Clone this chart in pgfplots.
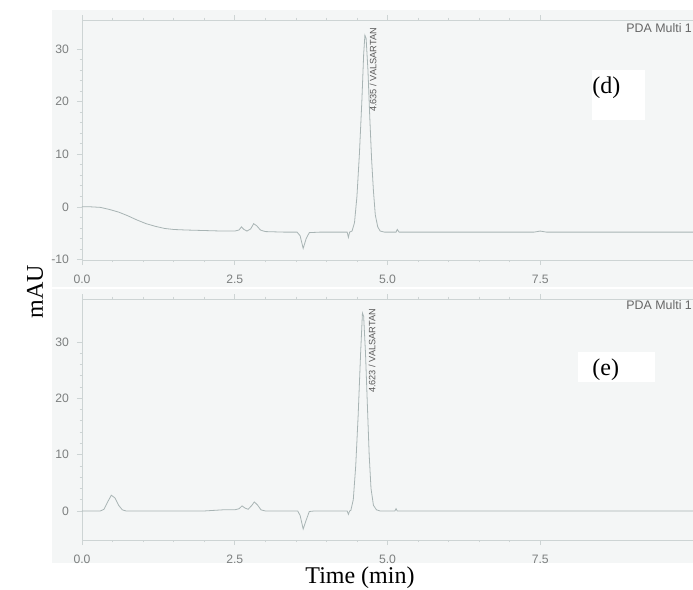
\documentclass[border=0pt]{standalone}
\usepackage{pgfplots}
\pgfplotsset{compat=1.18}
\usepackage{fontspec}
\setmainfont{Liberation Serif}
\newfontfamily\arial{Liberation Sans}
\definecolor{bgcol}{RGB}{244,246,246}
\definecolor{framecol}{RGB}{205,212,212}
\definecolor{linecol}{RGB}{168,180,180}
\definecolor{tickcol}{RGB}{125,128,128}
\pgfplotsset{
  chrom/.style={
    scale only axis, width=305.5pt,
    xmin=0, xmax=10,
    xtick={0,2.5,5,7.5},
    xticklabels={0.0,2.5,5.0,7.5},
    minor x tick num=4,
    minor y tick num=4,
    tick align=outside,
    major tick length=2.5pt, minor tick length=1.2pt,
    axis line style={draw=framecol, line width=0.4pt},
    every tick/.style={draw=framecol, line width=0.3pt},
    tick label style={font=\arial\fontsize{6.1}{6.5}\selectfont, text=tickcol},
    /pgf/number format/assume math mode=true,
    xticklabel style={yshift=-1.5pt},
    yticklabel style={xshift=-0.5pt},
    axis background/.style={fill=bgcol},
    clip=true,
  }
}
\begin{document}
\begin{tikzpicture}[x=1pt,y=1pt]
\useasboundingbox (0,0) rectangle (346.5,-295);
\fill[white] (0,0) rectangle (346.5,-295);
\fill[bgcol] (26,-5) rectangle (346.5,-143.3);
\fill[bgcol] (26,-144.5) rectangle (346.5,-281.5);
% panel d
\begin{axis}[chrom, at={(41pt,-130pt)}, anchor=south west, height=120pt,
  ymin=-10.1, ymax=35.5, ytick={-10,0,10,20,30}]
\addplot[linecol, line width=0.4pt] coordinates {
(0.00,0.0) (0.15,0.0) (0.30,-0.1) (0.45,-0.5) (0.60,-1.0) (0.75,-1.7) (0.90,-2.5)
(1.05,-3.2) (1.20,-3.7) (1.35,-4.1) (1.50,-4.3) (1.70,-4.4) (2.00,-4.5) (2.30,-4.6)
(2.50,-4.6) (2.57,-4.4) (2.61,-3.8) (2.65,-4.3) (2.70,-4.6) (2.76,-4.2) (2.81,-3.2)
(2.86,-3.6) (2.92,-4.4) (3.00,-4.7) (3.30,-4.8) (3.52,-4.8) (3.57,-5.5) (3.62,-7.9)
(3.67,-6.0) (3.72,-4.9) (3.90,-4.8) (4.20,-4.8) (4.34,-4.8) (4.36,-5.8) (4.38,-4.8)
(4.42,-4.6) (4.46,-3.0) (4.50,2.0) (4.54,10.0) (4.58,20.0) (4.61,29.0) (4.63,32.6)
(4.65,32.0) (4.68,26.0) (4.71,17.0) (4.74,9.0) (4.77,3.0) (4.80,-1.5) (4.84,-3.8)
(4.88,-4.6) (4.95,-4.8) (5.14,-4.8) (5.16,-4.3) (5.19,-4.8) (7.40,-4.8) (7.50,-4.6)
(7.60,-4.8) (10.0,-4.8)
};
\end{axis}
% panel e
\begin{axis}[chrom, at={(41pt,-270pt)}, anchor=south west, height=120.5pt,
  ymin=-5.15, ymax=37.6, ytick={0,10,20,30}]
\addplot[linecol, line width=0.4pt] coordinates {
(0.00,0.0) (0.30,0.0) (0.36,0.3) (0.42,1.6) (0.48,2.8) (0.54,2.3) (0.60,1.0)
(0.66,0.2) (0.72,0.0) (2.00,0.0) (2.30,0.2) (2.50,0.2) (2.57,0.4) (2.62,0.9)
(2.67,0.5) (2.72,0.3) (2.78,1.0) (2.82,1.6) (2.87,1.1) (2.93,0.2) (3.00,0.0)
(3.53,0.0) (3.57,-0.8) (3.62,-3.2) (3.67,-1.6) (3.72,-0.1) (3.80,0.0) (4.34,0.0)
(4.36,-0.6) (4.38,0.0) (4.40,0.1) (4.44,2.0) (4.48,8.0) (4.52,17.0) (4.56,28.0)
(4.59,35.1) (4.61,34.5) (4.64,28.0) (4.67,19.0) (4.70,10.0) (4.73,4.0) (4.77,1.0)
(4.82,0.2) (4.88,0.0) (5.12,0.0) (5.14,0.4) (5.16,0.0) (10.0,0.0)
};
\end{axis}
% annotations
\node[rotate=90, font=\arial\fontsize{4.6}{5}\selectfont, text=black!65] at (186.5,-35) {4.635 / VALSARTAN};
\node[rotate=90, font=\arial\fontsize{4.6}{5}\selectfont, text=black!65] at (186,-175.5) {4.623 / VALSARTAN};
\node[anchor=west, inner sep=0pt, font=\arial\fontsize{6.2}{6.5}\selectfont, text=black!60] at (313,-14) {PDA Multi 1};
\node[anchor=west, inner sep=0pt, font=\arial\fontsize{6.2}{6.5}\selectfont, text=black!60] at (313,-152.5) {PDA Multi 1};
\fill[white] (296,-35) rectangle (322.5,-60);
\node[anchor=west, inner sep=0pt, font=\fontsize{12}{13}\selectfont] at (296,-44) {(d)};
\fill[white] (289,-176) rectangle (327.5,-191);
\node[anchor=west, inner sep=0pt, font=\fontsize{12}{13}\selectfont] at (296,-185) {(e)};
\node[rotate=90, font=\fontsize{12}{13}\selectfont] at (17.5,-146) {mAU};
\node[font=\fontsize{12}{13}\selectfont] at (180,-289) {Time (min)};
\end{tikzpicture}
\end{document}
